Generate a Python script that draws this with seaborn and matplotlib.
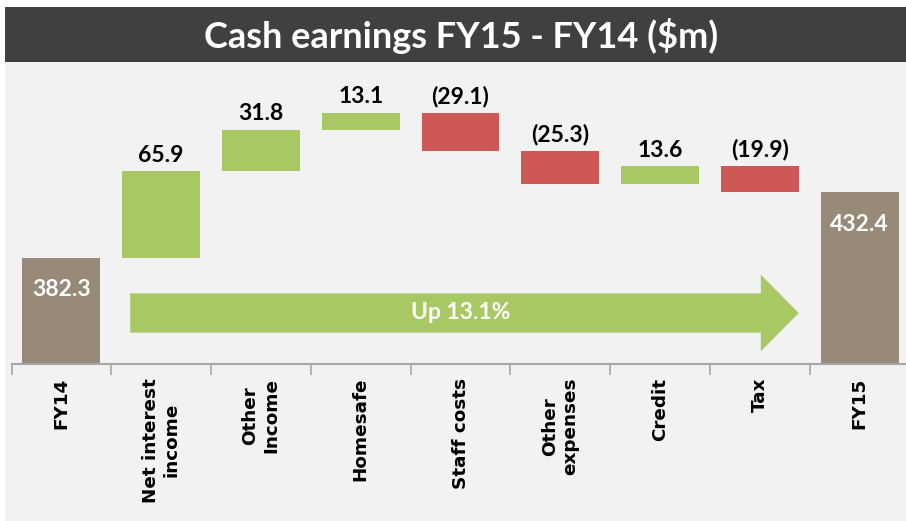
import numpy as np
import pandas as pd
import matplotlib
matplotlib.use("Agg")
import matplotlib.pyplot as plt
import seaborn as sns
from matplotlib.patches import Rectangle, FancyArrow

# data
categories = ["FY14", "Net interest\nincome", "Other\nIncome", "Homesafe", "Staff costs",
              "Other\nexpenses", "Credit", "Tax", "FY15"]
fy14 = 382.3
fy15 = 432.4
changes = [65.9, 31.8, 13.1, -29.1, -25.3, 13.6, -19.9]
growth_label = "Up 13.1%"
title = "Cash earnings FY15 - FY14 ($m)"

GREEN = "#A8C864"
RED = "#CD5856"
BROWN = "#978A78"
BG = "#F2F2F2"
DARK = "#404040"

# waterfall geometry
levels = np.concatenate([[fy14], fy14 + np.cumsum(changes)])
bottoms = [0.0]
heights = [fy14]
colors = [BROWN]
for i, d in enumerate(changes):
    bottoms.append(min(levels[i], levels[i + 1]))
    heights.append(abs(d))
    colors.append(GREEN if d > 0 else RED)
bottoms.append(0.0)
heights.append(fy15)
colors.append(BROWN)

df = pd.DataFrame({"cat": categories, "height": heights, "bottom": bottoms})

W, H = 906, 521
fig = plt.figure(figsize=(W / 100, H / 100), dpi=100)
fig.patch.set_facecolor("white")
fig.patches.append(Rectangle((5 / W, 0), 1, 1 - 62 / H, transform=fig.transFigure,
                             facecolor=BG, edgecolor="none", zorder=-2))
fig.patches.append(Rectangle((5 / W, 1 - 62 / H), 1, 55 / H, transform=fig.transFigure,
                             facecolor=DARK, edgecolor="none", zorder=-2))
fig.text(461 / W, 1 - 36 / H, title, color="white", fontsize=26, fontweight="bold",
         family="Lato", ha="center", va="center")

ax = fig.add_axes([11.5 / W, 1 - 364 / H, 898 / W, 299 / H])
ax.set_facecolor("none")

sns.barplot(data=df, x="cat", y="height", bottom=df["bottom"].values, width=0.78,
            order=categories, ax=ax, zorder=2, linewidth=0, color=BROWN, saturation=1)
for p, c in zip(ax.patches, colors):
    p.set_facecolor(c)
    p.set_edgecolor("none")

ax.set_ylim(301, 529.6)
ax.set_xlim(-0.5, 8.45)

# value labels
lbl_font = dict(family="Lato", fontweight="bold", fontsize=16.5)
for i, d in enumerate(changes):
    top = max(levels[i], levels[i + 1])
    txt = f"{d:.1f}" if d > 0 else f"({abs(d):.1f})"
    ax.annotate(txt, (i + 1, top), xytext=(0, 4), textcoords="offset points",
                ha="center", va="bottom", color="black", **lbl_font)
for i, v in [(0, fy14), (len(categories) - 1, fy15)]:
    ax.annotate(f"{v:.1f}", (i, v), xytext=(0, -23), textcoords="offset points",
                ha="center", va="center", color="white", **lbl_font)

# growth arrow
arrow = FancyArrow(0.69, 340.0, 6.7, 0, width=30.0, head_width=58.5, head_length=0.38,
                   length_includes_head=True, facecolor=GREEN, edgecolor="none", zorder=3)
ax.add_patch(arrow)
ax.text(4.0, 340.0, growth_label, color="white", ha="center", va="center", zorder=4,
        **lbl_font)

# axes styling
for s in ["top", "right", "left"]:
    ax.spines[s].set_visible(False)
ax.spines["bottom"].set_color("#A6A6A6")
ax.spines["bottom"].set_linewidth(1.5)
ax.set_yticks([])
ax.set_xlabel("")
ax.set_ylabel("")
ax.set_xticks(range(len(categories)))
ax.set_xticklabels(categories, rotation=90, fontweight="bold", fontsize=13.2,
                   family="DejaVu Sans", multialignment="center")
ax.tick_params(axis="x", which="major", length=0, pad=10)
ax.set_xticks(np.arange(-0.5, len(categories)), minor=True)
ax.tick_params(axis="x", which="minor", length=8, width=1.2, color="#A6A6A6")

fig.savefig("out.png", dpi=100)
